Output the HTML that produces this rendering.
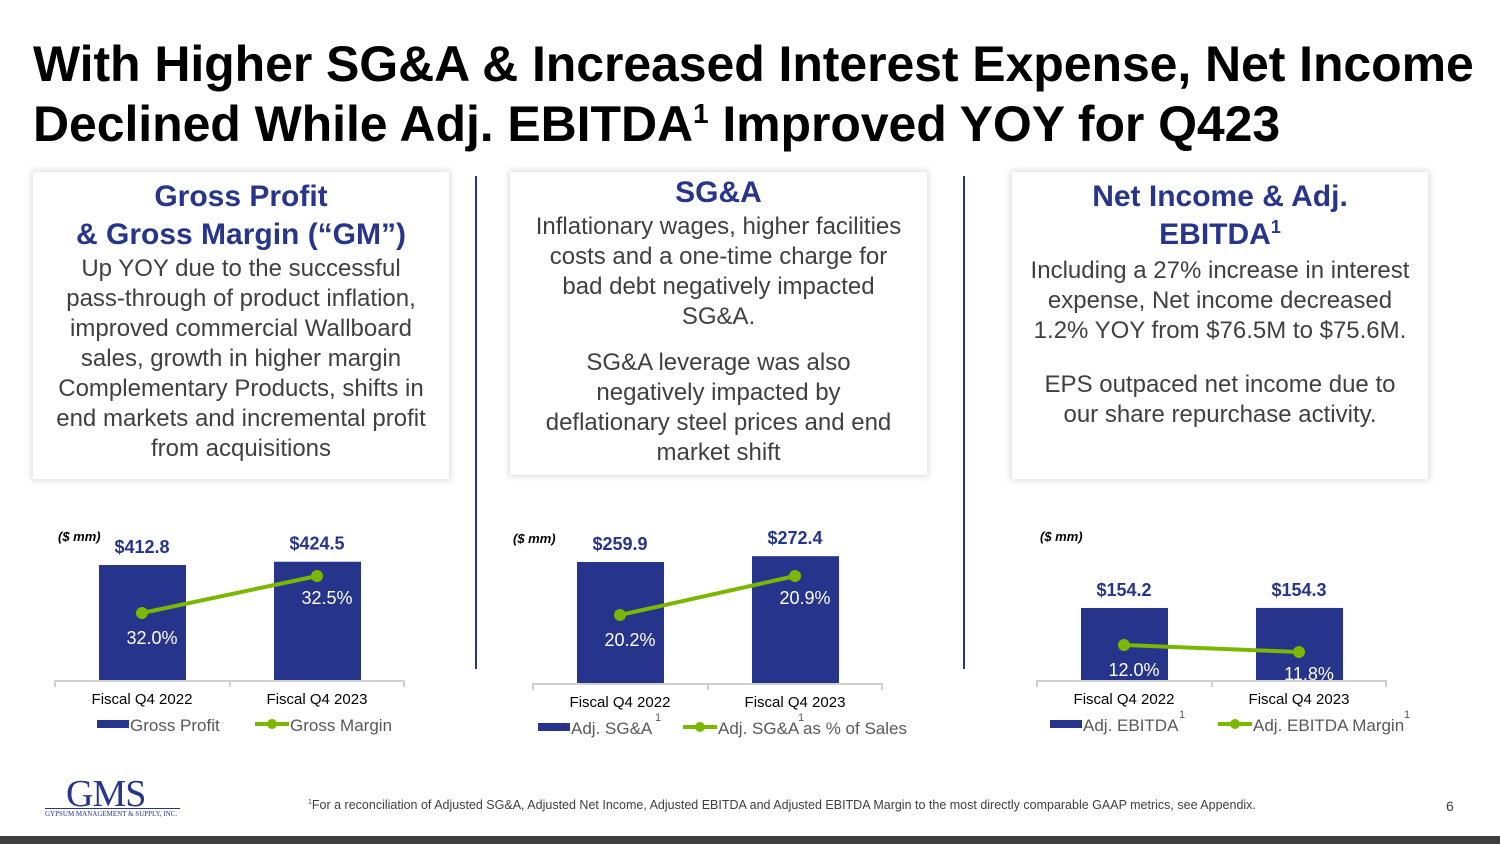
<!DOCTYPE html>
<html><head><meta charset="utf-8"><style>
body{margin:0;width:1500px;height:844px;background:#fff;position:relative;overflow:hidden;font-family:"Liberation Sans",sans-serif}
.t{position:absolute;left:33px;top:34px;font-size:50px;font-weight:bold;color:#000;line-height:60px;letter-spacing:-0.08px;white-space:nowrap}
.box{position:absolute;top:172px;height:301px;background:#fff;box-shadow:0 0 6px 2px rgba(0,0,0,0.12);text-align:center;color:#404040;font-size:24px;line-height:30px}
.box h3{margin:0;color:#27358a;font-size:30px;line-height:38px}
.div{position:absolute;top:176px;width:2px;height:493px;background:#27358a}
svg{position:absolute;left:0;top:0}
</style></head><body>
<div class="t">With Higher SG&amp;A &amp; Increased Interest Expense, Net Income<br>Declined While Adj. EBITDA<sup style="font-size:28px;vertical-align:18px;line-height:0">1</sup> Improved YOY for Q423</div>
<div class="box" style="left:33px;width:416px;padding-top:6px"><h3>Gross Profit<br>&amp; Gross Margin (“GM”)</h3>Up YOY due to the successful<br>pass-through of product inflation,<br>improved commercial Wallboard<br>sales, growth in higher margin<br>Complementary Products, shifts in<br>end markets and incremental profit<br>from acquisitions</div>
<div class="box" style="left:510px;width:417px;padding-top:2px"><h3>SG&amp;A</h3>Inflationary wages, higher facilities<br>costs and a one-time charge for<br>bad debt negatively impacted<br>SG&amp;A.<div style="height:16px"></div>SG&amp;A leverage was also<br>negatively impacted by<br>deflationary steel prices and end<br>market shift</div>
<div class="box" style="left:1012px;width:416px;padding-top:6px"><h3>Net Income &amp; Adj.<br>EBITDA<sup style="font-size:18px;line-height:0">1</sup></h3><div style="height:2px"></div>Including a 27% increase in interest<br>expense, Net income decreased<br>1.2% YOY from $76.5M to $75.6M.<div style="height:24px"></div>EPS outpaced net income due to<br>our share repurchase activity.</div>
<div class="div" style="left:475px"></div>
<div class="div" style="left:963px"></div>
<svg id="s" width="1500" height="844"></svg>
<div style="position:absolute;left:66px;top:772px;font-family:'Liberation Serif',serif;font-size:38px;color:#27358a;letter-spacing:-1px">GMS</div>
<div style="position:absolute;left:45px;top:808px;width:135px;border-top:1px solid #27358a;font-family:'Liberation Serif',serif;font-size:7px;color:#27358a;padding-top:1px">GYPSUM MANAGEMENT &amp; SUPPLY, INC.</div>
<div style="position:absolute;left:308px;top:798px;font-size:12.5px;color:#404040;white-space:nowrap"><sup style="font-size:7px">1</sup>For a reconciliation of Adjusted SG&amp;A, Adjusted Net Income, Adjusted EBITDA and Adjusted EBITDA Margin to the most directly comparable GAAP metrics, see Appendix.</div>
<div style="position:absolute;left:1446px;top:798px;font-size:14px;color:#404040">6</div>
<div style="position:absolute;left:0;top:836px;width:1500px;height:8px;background:#3f3f3f"></div>
<script>
const categories=["Fiscal Q4 2022","Fiscal Q4 2023"];
const gpValues=[412.8,424.5];
const gmValues=[32.0,32.5];
const sgaValues=[259.9,272.4];
const sgaPctValues=[20.2,20.9];
const ebitdaValues=[154.2,154.3];
const ebitdaMarginValues=[12.0,11.8];
const barLabels1=["$412.8","$424.5"],lineLabels1=["32.0%","32.5%"];
const barLabels2=["$259.9","$272.4"],lineLabels2=["20.2%","20.9%"];
const barLabels3=["$154.2","$154.3"],lineLabels3=["12.0%","11.8%"];
const NS="http://www.w3.org/2000/svg",svg=document.getElementById('s');
function el(t,a,txt){const e=document.createElementNS(NS,t);for(const k in a)e.setAttribute(k,a[k]);if(txt!==undefined)e.textContent=txt;svg.appendChild(e);return e;}
function chart(o){
 const base=o.base,x=i=>o.x0+i*175,yb=v=>base-v*o.bs,yl=v=>o.lRef-(v-o.lv0)*o.lk;
 let t=el('text',{x:o.x0+o.ux,y:o.uy,'font-size':13,'font-weight':'bold','font-style':'italic',fill:'#000'},'($ mm)');
 
 let ax=el('line',{x1:o.x0-87,x2:o.x0+262,y1:base+1,y2:base+1,stroke:'#d0d0d0','stroke-width':2});
 
 [o.x0-87,o.x0+88,o.x0+262].forEach(xx=>el('line',{x1:xx,x2:xx,y1:base,y2:base+7,stroke:'#d0d0d0','stroke-width':2}));
 o.bars.forEach((v,i)=>{
  let r=el('rect',{x:x(i)-43,y:yb(v),width:87,height:base-yb(v),fill:'#26348b'});
  
  let l=el('text',{x:x(i),y:yb(v)-12,'text-anchor':'middle','font-size':18,'font-weight':'bold',fill:'#26348b'},o.bl[i]);
  
  let c=el('text',{x:x(i),y:base+24,'text-anchor':'middle','font-size':15,fill:'#000'},categories[i]);
  
 });
 let p=el('polyline',{points:o.line.map((v,i)=>x(i)+','+yl(v)).join(' '),fill:'none',stroke:'#7ab800','stroke-width':4});
 
 o.line.forEach((v,i)=>{
  let d=el('circle',{cx:x(i),cy:yl(v),r:6,fill:'#7ab800'});
  
  let l=el('text',{x:x(i)+10,y:yl(v)+(i==0?31:28),'text-anchor':'middle','font-size':18,fill:'#fff'},o.ll[i]);
  
 });
 const ly=base+45,bx=o.x0+o.lbx;
 let lb=el('rect',{x:bx,y:ly-5,width:32,height:8,fill:'#26348b'});
 let lt=el('text',{x:bx+33,y:ly+6,'font-size':17,fill:'#595959'},o.lg[0]);
 const lx=o.x0+o.lgx;
 el('line',{x1:lx,x2:lx+34,y1:ly-1,y2:ly-1,stroke:'#7ab800','stroke-width':4});el('circle',{cx:lx+17,cy:ly-1,r:5,fill:'#7ab800'});
 let lt2=el('text',{x:lx+35,y:ly+6,'font-size':17,fill:'#595959'},o.lg[1]);
 if(o.sup){o.sup.forEach(sx=>el('text',{x:o.x0+sx,y:ly-7,'font-size':11,fill:'#595959'},'1'));}
}
chart({x0:142,base:680,bs:0.2786,bars:gpValues,bl:barLabels1,line:gmValues,ll:lineLabels1,lRef:613,lv0:32.0,lk:74,lg:["Gross Profit","Gross Margin"],lbx:-45,lgx:113,ux:-84,uy:541});
chart({x0:620,base:683,bs:0.4656,bars:sgaValues,bl:barLabels2,line:sgaPctValues,ll:lineLabels2,lRef:615,lv0:20.2,lk:55.7,lg:["Adj. SG&A","Adj. SG&A  as % of Sales"],lbx:-82,lgx:63,sup:[35,178],ux:-107,uy:543});
chart({x0:1124,base:680,bs:0.467,bars:ebitdaValues,bl:barLabels3,line:ebitdaMarginValues,ll:lineLabels3,lRef:645,lv0:12.0,lk:35,lg:["Adj. EBITDA","Adj. EBITDA Margin"],lbx:-74,lgx:94,sup:[55,280],ux:-84,uy:541});
</script>
</body></html>
